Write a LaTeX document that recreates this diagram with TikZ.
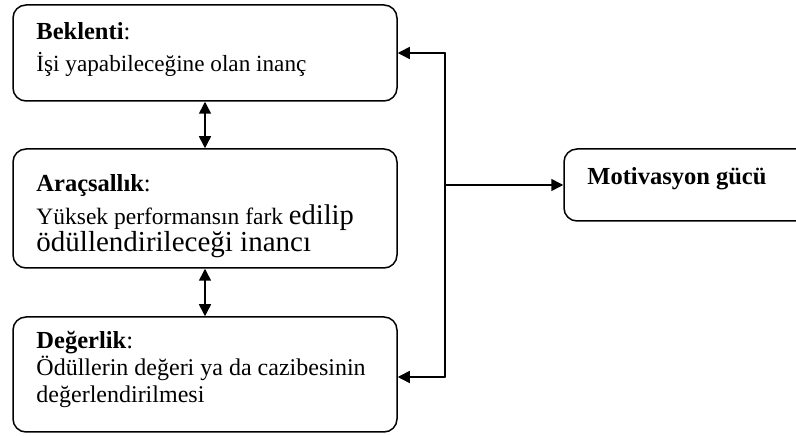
\documentclass[tikz,border=0pt]{standalone}
\usepackage{fontspec}
\setmainfont{Liberation Serif}
\usetikzlibrary{arrows.meta}

\begin{document}
\begin{tikzpicture}[line cap=round,line join=round,>={Triangle[length=12pt,width=12pt]},x=1pt,y=1pt,
        kutu/.style={draw,line width=1.5pt,rounded corners=13pt,inner sep=0pt},
        yazi/.style={anchor=north west,inner sep=0pt,align=left,font=\fontsize{23.5}{27}\selectfont},
        baslik/.style={font=\fontsize{24.5}{27}\selectfont\bfseries},
        ok/.style={line width=1.5pt}]
        \clip(0,0) rectangle (796,436);
        % kutular
        \node [kutu,minimum width=384pt,minimum height=96pt] (bek) at (205,383) {};
        \node [kutu,minimum width=384pt,minimum height=119pt] (ara) at (205,227.5) {};
        \node [kutu,minimum width=384pt,minimum height=115pt] (deg) at (205,61.5) {};
        \node [kutu,minimum width=296pt,minimum height=72pt] (mot) at (712,251) {};
        % yazilar
        \node [yazi] (bekyazi) at ([shift={(24,-18)}]bek.north west) {{\fontsize{24.5}{27}\selectfont\textbf{Beklenti}:}\\[5pt]{\fontsize{23.2}{27}\selectfont İşi yapabileceğine olan inanç}};
        \node [yazi] (arayazi) at ([shift={(24,-26)}]ara.north west) {{\fontsize{24.5}{27}\selectfont\textbf{Araçsallık}:}\\[6pt]Yüksek performansın fark {\fontsize{28.5}{27}\selectfont edilip}\\{\fontsize{29}{27}\selectfont ödüllendirileceği inancı}};
        \node [yazi] (degyazi) at ([shift={(24,-15)}]deg.north west) {{\fontsize{24.5}{27}\selectfont\textbf{Değerlik}:}\\{\fontsize{24}{27}\selectfont Ödüllerin değeri ya da cazibesinin}\\{\fontsize{24}{27}\selectfont değerlendirilmesi}};
        \node [yazi,baslik,anchor=base west] (motyazi) at ([xshift=24pt]mot.west) {Motivasyon gücü};
        % baglantilar
        \coordinate (ust) at (445,383);
        \coordinate (alt) at (445,59);
        \coordinate (orta) at (ust |- mot.west);
        \draw [ok] (ust)-- (alt);
        \draw [ok,->] (ust)-- (bek.east);
        \draw [ok,->] (alt)-- (deg.east |- alt);
        \draw [ok,->] (orta)-- (mot.west);
        \draw [ok,<->] (bek.south)-- (ara.north);
        \draw [ok,<->] (ara.south)-- (deg.north);
\end{tikzpicture}
\end{document}
